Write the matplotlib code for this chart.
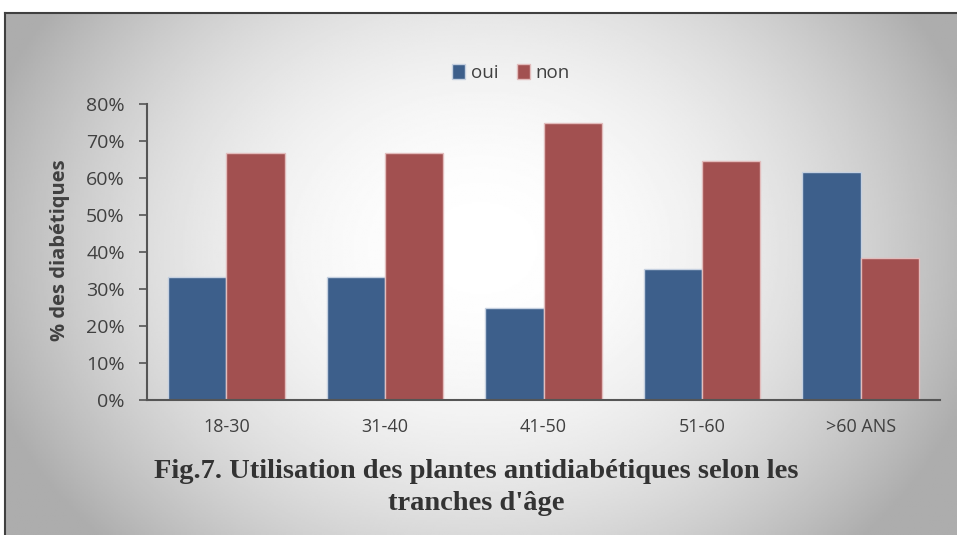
import numpy as np
import matplotlib
matplotlib.use("Agg")
import matplotlib.pyplot as plt

# ------ DONNEES ------
tranches = ["18-30", "31-40", "41-50", "51-60", ">60 ANS"]
oui = [33.3, 33.3, 25.0, 35.3, 61.5]
non = [66.7, 66.7, 75.0, 64.7, 38.5]
yticks = [0, 10, 20, 30, 40, 50, 60, 70, 80]

bleu = "#3d5f8b"
rouge = "#a25050"
gris_txt = "#404040"

fig = plt.figure(figsize=(9.57, 5.35), dpi=100)

# fond gris en degrade (cadre du graphique)
bg = fig.add_axes([5 / 957, 0, 1 - 5 / 957, 1 - 13 / 535])
yy, xx = np.mgrid[-1:1:300j, -1:1:500j]
r2 = (xx / 1.0) ** 2 + ((yy + 0.1) / 1.5) ** 2
grad = 1 - 0.27 * np.clip(r2, 0, 1.2)
bg.imshow(grad, cmap="gray", vmin=0, vmax=1, aspect="auto", extent=[0, 1, 0, 1])
bg.set_xticks([])
bg.set_yticks([])
for s in ["right", "bottom"]:
    bg.spines[s].set_visible(False)
for s in ["top", "left"]:
    bg.spines[s].set_color("#404040")
    bg.spines[s].set_linewidth(1.5)
bg.set_zorder(-1)

# ------ BARRES ------
ax = fig.add_axes([147 / 957, 1 - 400 / 535, 793 / 957, (400 - 104) / 535])
ax.patch.set_alpha(0)
x = np.arange(len(tranches))
w = 0.367
ax.bar(x - w / 2, oui, w, color=bleu, edgecolor="#c5d0e0", linewidth=1, label="oui")
ax.bar(x + w / 2, non, w, color=rouge, edgecolor="#e2bcbc", linewidth=1, label="non")

ax.set_xlim(-0.5, len(tranches) - 0.5)
ax.set_ylim(0, 80)
ax.set_yticks(yticks)
ax.set_yticklabels([f"{t}%" for t in yticks], fontsize=14, family="Open Sans", color=gris_txt)
ax.set_xticks(x)
ax.set_xticklabels(tranches, fontsize=13, family="Open Sans", color=gris_txt)
ax.tick_params(axis="x", length=0, pad=13)
ax.tick_params(axis="y", length=6, width=1.2, color="#555555", pad=10)
for s in ["top", "right"]:
    ax.spines[s].set_visible(False)
for s in ["left", "bottom"]:
    ax.spines[s].set_color("#555555")
    ax.spines[s].set_linewidth(1.5)

fig.text(60 / 957, 1 - 250 / 535, "% des diabétiques", rotation=90, ha="center", va="center",
         fontsize=14.5, fontweight="bold", family="Open Sans", color=gris_txt)

leg = fig.legend(loc="center", bbox_to_anchor=(511 / 957, 1 - 73 / 535), ncol=2, frameon=False,
                 prop={"family": "Open Sans", "size": 13.5},
                 handlelength=0.7, handleheight=0.9, handletextpad=0.3, columnspacing=1.0)
for t in leg.get_texts():
    t.set_color(gris_txt)

titre_kw = dict(ha="center", va="center", fontsize=20.5, fontweight="bold",
                family="Liberation Serif", color="#333333")
fig.text(476 / 957, 1 - 471 / 535, "Fig.7. Utilisation des plantes antidiabétiques selon les", **titre_kw)
fig.text(476 / 957, 1 - 503 / 535, "tranches d'âge", **titre_kw)

fig.savefig("out.png", dpi=100)
